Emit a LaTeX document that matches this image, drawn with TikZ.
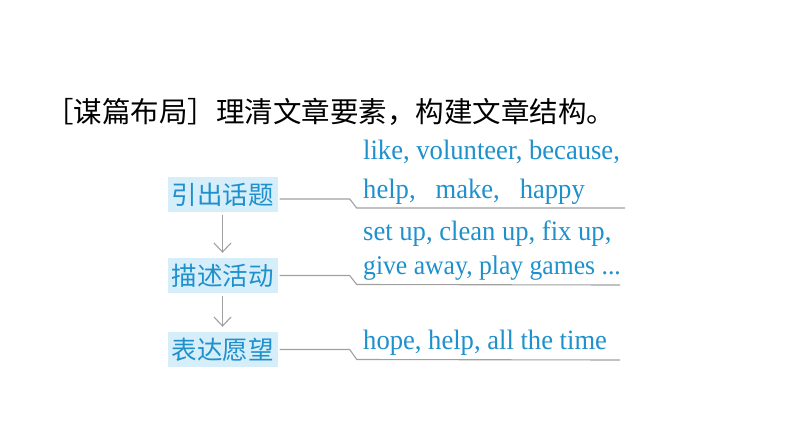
\documentclass[tikz,border=0pt]{standalone}
\usepackage{fontspec}
\usetikzlibrary{arrows.meta,positioning}
\newfontfamily\cjk{Noto Sans CJK SC}
\newfontfamily\wordfont[FakeStretch=0.95]{Liberation Serif}
\definecolor{tipblue}{RGB}{30,144,204}
\definecolor{boxblue}{RGB}{214,238,250}
\definecolor{linegray}{RGB}{160,160,160}

\begin{document}
\begin{tikzpicture}[x=1pt,y=-1pt,
  stagebox/.style={fill=boxblue, text=tipblue, font=\cjk\fontsize{25.5}{27}\selectfont,
    minimum width=110pt, minimum height=35pt, inner sep=0pt},
  words/.style={anchor=west, text=tipblue, inner sep=0pt, font=\wordfont\fontsize{28}{30}\selectfont},
  link/.style={linegray, line width=1.1pt},
  flow/.style={linegray, line width=1.1pt, shorten <=3pt, shorten >=5pt,
    -{Straight Barb[length=9pt,width=17pt,line width=1.1pt]}}]
\useasboundingbox (0,0) rectangle (794,447);
% title
\node[anchor=west, inner sep=0pt, font=\cjk\fontsize{28.5}{30}\selectfont] (title) at (45,112)
  {［谋篇布局］理清文章要素，构建文章结构。};
% stages
\node[stagebox] (topic) at (222.5,194.5) {引出话题};
\node[stagebox] (activity) at (222.5,275.5) {描述活动};
\node[stagebox] (wish) at (222.5,349.5) {表达愿望};
\draw[flow] (topic.south) -- (activity.north);
\draw[flow] (activity.south) -- (wish.north);
% key words
\node[words] (w1) at (363,152) {like, volunteer, because,};
\node[words] (w2) at (363,192) {help, \ \ make, \ \ happy};
\node[words] (w3) at (363,234) {set up, clean up, fix up,};
\node[words, font=\wordfont\fontsize{27}{29}\selectfont] (w4) at (363,268) {give away, play games ...};
\node[words] (w5) at (363,343) {hope, help, all the time};
% connectors
\coordinate (e1) at (625,208);
\coordinate (e2) at (620,285);
\coordinate (e3) at (620,360);
\draw[link] ([xshift=2pt,yshift=-4.5pt]topic.east) -- ++(70,0) -- ++(7,9) -- (e1);
\draw[link] ([xshift=2pt]activity.east) -- ++(70,0) -- ++(7,9) -- (e2);
\draw[link] ([xshift=2pt]wish.east) -- ++(70,0) -- ++(7,10) -- (e3);
\end{tikzpicture}
\end{document}
